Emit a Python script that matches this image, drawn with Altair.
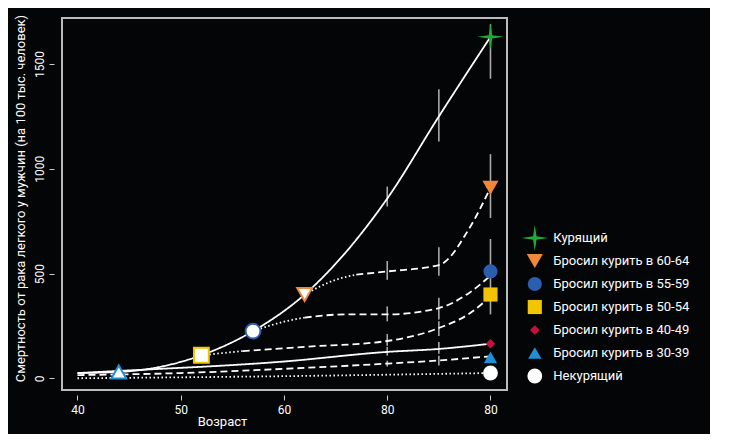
import altair as alt
import pandas as pd

FONT = "Roboto"
# line segments: (group, segment, style, [(age, value), ...])
segments = [
    ("smoker", "a", "solid", [(40, 25), (44, 30), (52, 110), (57, 225), (62, 400), (70, 858), (75, 1250), (80, 1630)]),
    ("q60", "a", "dotted", [(62, 400), (65, 470), (67, 495)]),
    ("q60", "b", "dashed", [(67, 495), (70, 510), (75, 540), (78, 720), (80, 910)]),
    ("q55", "a", "dotted", [(57, 225), (60, 270), (62, 290)]),
    ("q55", "b", "dashed", [(62, 290), (66, 305), (70, 305), (75, 335), (78, 410), (80, 490)]),
    ("q50", "a", "dotted", [(52, 110), (56, 130)]),
    ("q50", "b", "dashed", [(56, 130), (62, 150), (70, 178), (75, 240), (78, 310), (80, 390)]),
    ("q40", "a", "solid", [(40, 25), (44, 35), (60, 80), (70, 126), (75, 140), (80, 165)]),
    ("q30", "a", "dashed", [(40, 15), (50, 25), (60, 45), (70, 70), (75, 85), (80, 105)]),
    ("non", "a", "dotted", [(40, 0), (60, 10), (80, 25)]),
]
err_age = [70, 70, 70, 70, 70, 70, 75, 75, 75, 75, 75, 75, 80, 80, 80]
err_lo = [820, 470, 272, 155, 108, 56, 1130, 490, 281, 202, 117, 61, 1430, 765, 305]
err_hi = [915, 560, 343, 211, 150, 84, 1380, 625, 384, 272, 173, 108, 1690, 1070, 665]

start_age = [44, 52, 57, 62]
start_val = [30, 110, 225, 400]
start_shape = ["triangle-up", "square", "circle", "triangle-down"]
start_col = ["#1f8fd6", "#f2c500", "#2a5fb0", "#f0883a"]

labels = ["Курящий", "Бросил курить в 60-64", "Бросил курить в 55-59", "Бросил курить в 50-54",
          "Бросил курить в 40-49", "Бросил курить в 30-39", "Некурящий"]
end_val = [1630, 910, 510, 400, 165, 100, 25]
STAR = "M0,-1L0.13,-0.13L1,0L0.13,0.13L0,1L-0.13,0.13L-1,0L-0.13,-0.13Z"
shapes = [STAR, "triangle-down", "circle", "square", "diamond", "triangle-up", "circle"]
colors = ["#22a83a", "#f0883a", "#2a5fb0", "#f2c500", "#c8103e", "#1f8fd6", "#ffffff"]
sizes = [700, 260, 200, 200, 90, 180, 220]

rows = []
for g, s, st, pts in segments:
    for i, (a, v) in enumerate(pts):
        rows.append(dict(key=g + s, style=st, age=a, val=v, o=i))
lines_df = pd.DataFrame(rows)
err_df = pd.DataFrame(dict(age=err_age, lo=err_lo, hi=err_hi))
start_df = pd.DataFrame(dict(age=start_age, val=start_val, shape=start_shape, col=start_col))
end_df = pd.DataFrame(dict(age=[80] * 7, val=end_val, shape=shapes, col=colors, size=sizes, label=labels))

X = alt.X("age:Q", scale=alt.Scale(domain=[38.5, 81.6], nice=False, zero=False),
          axis=alt.Axis(values=[40, 50, 60, 70, 80], labelExpr="datum.value==70?'80':datum.label",
                        title="Возраст", titleX=160, titleFontWeight="normal", grid=False,
                        offset=5, tickSize=5, labelPadding=4, titlePadding=0))
Y = alt.Y("val:Q", scale=alt.Scale(domain=[-56, 1720], nice=False, zero=False),
          axis=alt.Axis(values=[0, 500, 1000, 1500], format="d", labelAngle=-90, labelAlign="center",
                        labelBaseline="bottom", grid=False, offset=8, tickSize=5, labelPadding=3,
                        title="Смертность от рака легкого у мужчин (на 100 тыс. человек)",
                        titleFontWeight="normal", titleY=180, titlePadding=6))

errs = alt.Chart(err_df).mark_rule(color="#aaaaaa", strokeWidth=1.6).encode(
    x=X, y=alt.Y("lo:Q", scale=alt.Scale(domain=[-56, 1720], nice=False, zero=False)), y2="hi:Q")
lines = alt.Chart(lines_df).mark_line(color="white", strokeWidth=1.8, interpolate="monotone").encode(
    x=X, y=Y, detail="key:N", order="o:Q",
    strokeDash=alt.StrokeDash("style:N", legend=None, scale=alt.Scale(
        domain=["solid", "dashed", "dotted"], range=[[1, 0], [7, 4], [1.5, 2.5]])))
starts = alt.Chart(start_df).mark_point(filled=True, fill="white", size=220, strokeWidth=2, opacity=1).encode(
    x=X, y=Y, shape=alt.Shape("shape:N", scale=None), stroke=alt.Stroke("col:N", scale=None))
ends = alt.Chart(end_df).mark_point(filled=True, opacity=1, strokeWidth=0).encode(
    x=X, y=Y, shape=alt.Shape("shape:N", scale=None), fill=alt.Fill("col:N", scale=None),
    size=alt.Size("size:Q", scale=None))
main = alt.layer(errs, lines, starts, ends).properties(width=445, height=372)

leg_df = end_df.assign(row=list(range(7)), lx=0.08, tx=0.18)
LY = alt.Y("row:O", axis=None, scale=alt.Scale(type="point", range=[220, 358], padding=0))
leg_pts = alt.Chart(leg_df).mark_point(filled=True, opacity=1, strokeWidth=0).encode(
    x=alt.X("lx:Q", axis=None, scale=alt.Scale(domain=[0, 1])), y=LY,
    shape=alt.Shape("shape:N", scale=None), fill=alt.Fill("col:N", scale=None),
    size=alt.Size("size:Q", scale=None))
leg_txt = alt.Chart(leg_df).mark_text(align="left", color="white", fontSize=13, font=FONT).encode(
    x=alt.X("tx:Q", axis=None, scale=alt.Scale(domain=[0, 1])), y=LY, text="label:N")
legend = alt.layer(leg_pts, leg_txt).properties(width=185, height=372,
                                                 view=alt.ViewBackground(strokeOpacity=0, stroke="transparent"))

chart = alt.hconcat(main, legend, spacing=12).configure(background="#040506").configure_view(
    stroke="#bbbbbb", strokeWidth=2).configure_axis(
    domain=False, tickColor="#cccccc", labelColor="white", titleColor="white",
    labelFont=FONT, titleFont=FONT, labelFontSize=12, titleFontSize=13)
chart.save("out.html", embed_options={"renderer": "svg", "actions": False})
